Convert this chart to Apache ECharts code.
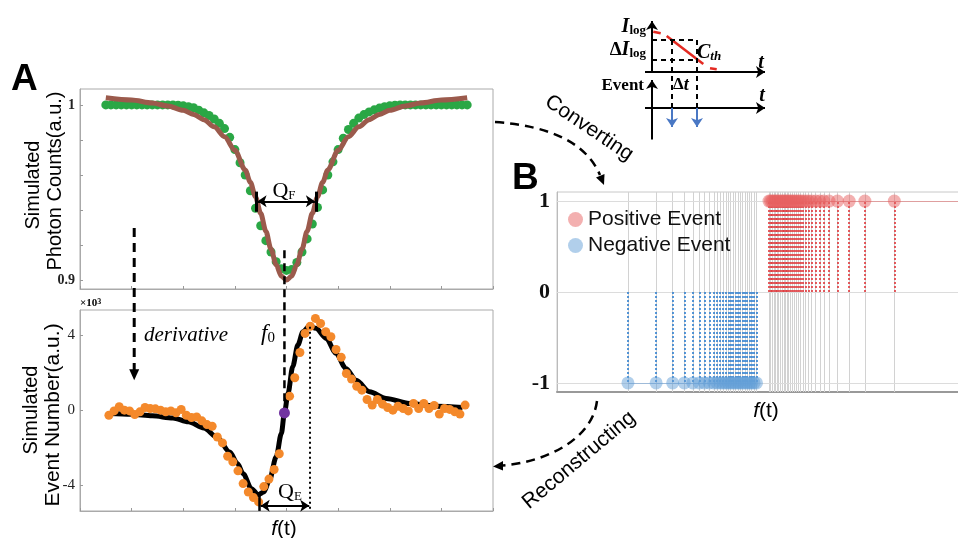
<!DOCTYPE html>
<html>
<head>
<meta charset="utf-8">
<style>
  html, body { margin: 0; padding: 0; background: #fff; }
  #main { width: 958px; height: 538px; }
</style>
<script src="https://cdn.jsdelivr.net/npm/echarts@6/dist/echarts.min.js"></script>
</head>
<body>
<div id="main"></div>
<script>
// A (top): simulated photon counts, dots + Lorentzian fit
const photonF = [-3.5,-3.4,-3.3,-3.2,-3.1,-3.0,-2.9,-2.8,-2.7,-2.6,-2.5,-2.4,-2.3,-2.2,-2.1,-2.0,-1.9,-1.8,-1.7,-1.6,-1.5,-1.4,-1.3,-1.2,-1.1,-1.0,-0.9,-0.8,-0.7,-0.6,-0.5,-0.4,-0.3,-0.2,-0.1,0,0.1,0.2,0.3,0.4,0.5,0.6,0.7,0.8,0.9,1.0,1.1,1.2,1.3,1.4,1.5,1.6,1.7,1.8,1.9,2.0,2.1,2.2,2.3,2.4,2.5,2.6,2.7,2.8,2.9,3.0,3.1,3.2,3.3,3.4,3.5];
const photonCounts = [1,1,1,1,1,1,1,1,1,1,1,1,1,1,
  0.9998,0.9995,0.9990,0.9984,0.9970,0.9955,0.9940,0.9920,0.9895,0.9865,0.9815,0.9745,0.9670,0.9600,0.9510,0.9410,0.9310,0.9225,0.9160,0.9105,0.9065,
  0.9055,
  0.9060,0.9100,0.9160,0.9235,0.9320,0.9415,0.9515,0.9600,0.9675,0.9745,0.9810,0.9860,0.9895,0.9925,0.9945,0.9960,0.9972,0.9982,0.9990,0.9995,0.9998,
  1,1,1,1,1,1,1,1,1,1,1,1,1,1];
const photonFitF = [-3.5,-3,-2.6,-2.3,-2,-1.8,-1.6,-1.4,-1.2,-1,-0.8,-0.7,-0.6,-0.5,-0.4,-0.3,-0.2,-0.1,0,0.1,0.2,0.3,0.4,0.5,0.6,0.7,0.8,1,1.2,1.4,1.6,1.8,2,2.3,2.6,3,3.5];
const photonFit = [1.0041,1.0028,1.0011,0.9994,0.9969,0.9946,0.9916,0.9875,0.9819,0.9741,0.9629,0.9558,0.9475,0.9381,0.9279,0.9177,0.9087,0.9023,0.9000,0.9023,0.9087,0.9177,0.9279,0.9381,0.9475,0.9558,0.9629,0.9741,0.9819,0.9875,0.9916,0.9946,0.9969,0.9994,1.0011,1.0028,1.0041];

// A (bottom): simulated event number (x10^3), dots + fit
const eventF = [-3.44,-3.34,-3.24,-3.14,-3.04,-2.94,-2.84,-2.74,-2.64,-2.54,-2.44,-2.34,-2.24,-2.14,-2.04,-1.94,-1.84,-1.74,-1.64,-1.54,-1.44,-1.34,-1.24,-1.14,-1.04,-0.94,-0.84,-0.74,-0.64,-0.54,-0.44,-0.34,-0.24,-0.14,-0.04,0.06,0.16,0.26,0.36,0.46,0.56,0.66,0.76,0.86,0.96,1.06,1.16,1.26,1.36,1.46,1.56,1.66,1.76,1.86,1.96,2.06,2.16,2.26,2.36,2.46,2.56,2.66,2.76,2.86,2.96,3.06,3.16,3.26,3.36,3.46];
const eventCounts = [-0.27,-0.04,0.18,0.0,-0.04,-0.23,-0.09,0.14,0.09,0.07,
  0.0,-0.09,-0.04,-0.14,0.04,-0.27,-0.39,-0.36,-0.57,-0.77,
  -0.86,-1.43,-1.75,-2.46,-2.76,-3.24,-3.92,-4.37,-4.67,-4.90,
  -4.08,-3.68,-3.17,-2.33,-0.18,0.75,1.73,3.08,4.10,4.48,
  4.90,4.63,4.19,3.92,3.24,2.82,1.96,1.66,1.28,1.07,
  0.57,0.27,0.57,0.32,0.14,0.0,0.21,0.09,-0.04,0.36,
  0.09,0.36,0.09,0.25,-0.21,0.09,0.04,-0.09,-0.21,0.27];
const eventFitF = [-3.44,-3.0,-2.6,-2.2,-1.9,-1.6,-1.35,-1.1,-0.95,-0.84,-0.68,-0.55,-0.44,-0.33,-0.2,-0.1,-0.04,0.03,0.12,0.22,0.32,0.44,0.57,0.77,0.96,1.15,1.35,1.61,1.93,2.38,2.9,3.41];
const eventFit = [-0.18,-0.22,-0.30,-0.42,-0.62,-0.95,-1.43,-2.23,-2.85,-3.39,-4.19,-4.51,-4.37,-3.74,-2.50,-1.25,-0.15,0.9,2.32,3.48,4.19,4.49,4.37,3.83,3.03,2.23,1.60,0.98,0.62,0.36,0.21,0.14];
const f0Point = [-0.04, -0.15];

// B: event stream positions along f(t)
const negEvents = [17.6,24.6,28.7,31.6,33.7,35.3,36.6,37.8,38.9,39.7,40.5,41.2,41.9,42.5,43.1,43.7,44.3,44.9,45.4,46.0,46.6,47.2,47.8,48.3,48.9,49.5];
const posEvents = [52.6,53.0,53.4,53.8,54.2,54.6,55.0,55.5,55.9,56.3,56.7,57.1,57.5,58.0,58.4,58.9,59.4,59.9,60.4,61.0,61.7,62.4,63.2,64.2,65.2,66.2,67.5,69.6,72.5,76.4,83.7];
const bTicks = [-1, 0, 1];

// inset schematic (I_log vs t, event vs t)
const cthSolid = [[1.47, 10.4], [5.13, 7.6]];
const cthDashes = [[[0.13, 10.83], [0.87, 10.67]], [[5.8, 7.17], [6.47, 7.07]]];
const levelY = [10.0, 8.0];
const eventT = [2.0, 4.5];

const serif = '"Liberation Serif", "Times New Roman", serif';
const sans = '"Liberation Sans", Arial, sans-serif';

const chart = echarts.init(document.getElementById('main'));

const hidden = { show: false };
const lineOnly = (from, to, style, sym) => [
  { coord: from, symbol: sym ? sym[0] : 'none', symbolSize: 9 },
  { coord: to, symbol: sym ? sym[1] : 'none', symbolSize: 9, lineStyle: style }
];

const qfLines = [
  lineOnly([-0.56, 0.945], [0.55, 0.945], { color: '#000', width: 2, type: 'solid' }, ['arrow', 'arrow']),
  lineOnly([-0.585, 0.9505], [-0.585, 0.939], { color: '#000', width: 3, type: 'solid' }),
  lineOnly([0.57, 0.9505], [0.57, 0.939], { color: '#000', width: 3, type: 'solid' })
];
const qeLines = [
  lineOnly([-0.52, -4.5], [-0.52, -5.38], { color: '#000', width: 2.5, type: 'solid' }),
  lineOnly([0.46, 4.45], [0.46, -5.38], { color: '#000', width: 2, type: [2, 3] }),
  lineOnly([-0.5, -5.1], [0.44, -5.1], { color: '#000', width: 2, type: 'solid' }, ['arrow', 'arrow'])
];

const greyLines = negEvents.concat(posEvents).map(x => ({ xAxis: x, lineStyle: { color: '#d2d2d2', width: 1, type: 'solid' } }))
  .concat(bTicks.map(y => ({ yAxis: y, lineStyle: { color: '#dcdcdc', width: 1, type: 'solid' } })));
const stems = negEvents.map(x => lineOnly([x, 0], [x, -1], { color: '#2f7fd0', width: 1.6, type: [2, 2] }))
  .concat(posEvents.map(x => lineOnly([x, 0], [x, 1], { color: '#e0363a', width: 1.6, type: [2, 2] })))
  .concat([
    lineOnly([posEvents[0], 1], [100, 1], { color: 'rgba(226,110,110,0.55)', width: 1, type: 'solid' }),
    lineOnly([negEvents[0], -1], [negEvents[negEvents.length - 1], -1], { color: 'rgba(110,160,215,0.55)', width: 1, type: 'solid' })
  ]);

const black = { color: '#000', width: 2, type: 'solid' };
const dashB = { color: '#000', width: 2, type: [5, 4] };
const insetLines = [
  lineOnly([0, 6.8], [0, 11.9], black, ['none', 'arrow']),
  lineOnly([0, 0.05], [0, 6.0], black, ['none', 'arrow']),
  lineOnly([-0.7, 6.8], [11.3, 6.8], black, ['none', 'arrow']),
  lineOnly([-0.7, 3.2], [11.3, 3.2], black, ['none', 'arrow'])
].concat(cthDashes.map(d => lineOnly(d[0], d[1], { color: '#e42a22', width: 2.5, type: 'solid' })))
 .concat(levelY.map(y => lineOnly([0, y], [eventT[1], y], dashB)))
 .concat(eventT.map(t => lineOnly([t, levelY[0]], [t, 3.2], dashB)))
 .concat(eventT.map(t => lineOnly([t, 3.2], [t, 1.3], { color: '#4a78c4', width: 2, type: 'solid' }, ['none', 'arrow'])));

const markCommon = { silent: true, animation: false, symbol: ['none', 'none'], label: { show: false }, emphasis: { disabled: true } };

const axA = (g) => ({
  gridIndex: g, type: 'value', min: -4, max: 4, interval: 1,
  axisLine: { onZero: false, lineStyle: { color: '#aaa', width: 1 } },
  axisTick: { inside: true, length: 3, lineStyle: { color: '#999' } },
  axisLabel: { show: false }, splitLine: { show: false }
});

const option = {
  animation: false,
  backgroundColor: '#fff',
  legend: {
    data: ['Positive Event', 'Negative Event'],
    orient: 'vertical', left: 563, top: 204, itemGap: 5,
    icon: 'circle', itemWidth: 15, itemHeight: 15,
    textStyle: { fontFamily: sans, fontSize: 21, color: '#111' },
    selectedMode: false
  },
  grid: [
    { left: 80, top: 89, width: 413, height: 200, show: true, borderColor: '#aaa', borderWidth: 1, containLabel: false, outerBoundsMode: 'none' },
    { left: 80, top: 310, width: 413, height: 201, show: true, borderColor: '#aaa', borderWidth: 1, containLabel: false, outerBoundsMode: 'none' },
    { left: 557, top: 192, width: 403, height: 200, show: true, borderColor: '#c8c8c8', borderWidth: 1, containLabel: false, outerBoundsMode: 'none' },
    { left: 642, top: 15, width: 130, height: 125, show: false, containLabel: false, outerBoundsMode: 'none' }
  ],
  xAxis: [
    axA(0), axA(1),
    { gridIndex: 2, type: 'value', min: 0, max: 100,
      axisLine: { onZero: false, lineStyle: { color: '#999', width: 2 } },
      axisTick: hidden, axisLabel: hidden, splitLine: hidden },
    { gridIndex: 3, type: 'value', min: -1, max: 12, show: false }
  ],
  yAxis: [
    { gridIndex: 0, type: 'value', min: 0.8949, max: 1.0091,
      axisLine: { show: true, onZero: false, lineStyle: { color: '#aaa', width: 1 } },
      axisTick: { show: true, inside: true, length: 3, customValues: [0.9, 0.92, 0.94, 0.96, 0.98, 1], lineStyle: { color: '#999' } },
      axisLabel: { customValues: [0.9, 1], fontFamily: serif, fontWeight: 'bold', fontSize: 14, color: '#222', margin: 5 },
      splitLine: hidden },
    { gridIndex: 1, type: 'value', min: -5.385, max: 5.35,
      axisLine: { show: true, onZero: false, lineStyle: { color: '#aaa', width: 1 } },
      axisTick: { show: true, inside: true, length: 3, customValues: [-4, 0, 4], lineStyle: { color: '#999' } },
      axisLabel: { customValues: [-4, 0, 4], fontFamily: serif, fontSize: 15, color: '#222', margin: 5 },
      splitLine: hidden },
    { gridIndex: 2, type: 'value', min: -1.1, max: 1.1,
      axisLine: { show: true, onZero: false, lineStyle: { color: '#bbb', width: 1 } },
      axisTick: hidden,
      axisLabel: { customValues: bTicks, fontFamily: serif, fontWeight: 'bold', fontSize: 22, color: '#111', margin: 7 },
      splitLine: hidden },
    { gridIndex: 3, type: 'value', min: 0, max: 12.5, show: false }
  ],
  series: [
    { type: 'scatter', xAxisIndex: 0, yAxisIndex: 0, z: 2,
      data: photonF.map((f, i) => [f, photonCounts[i]]),
      symbolSize: 9, itemStyle: { color: '#2aa745', opacity: 1 } },
    { type: 'line', xAxisIndex: 0, yAxisIndex: 0, z: 3,
      data: photonFitF.map((f, i) => [f, photonFit[i]]),
      smooth: 0.3, smoothMonotone: 'x', showSymbol: false,
      lineStyle: { color: '#9b5a4c', width: 5 },
      markLine: Object.assign({ data: qfLines }, markCommon) },
    { type: 'line', xAxisIndex: 1, yAxisIndex: 1, z: 3,
      data: eventFitF.map((f, i) => [f, eventFit[i]]),
      smooth: 0.3, smoothMonotone: 'x', showSymbol: false,
      lineStyle: { color: '#000', width: 5 },
      markLine: Object.assign({ data: qeLines }, markCommon) },
    { type: 'scatter', xAxisIndex: 1, yAxisIndex: 1, z: 4,
      data: eventF.map((f, i) => [f, eventCounts[i]]),
      symbolSize: 9, itemStyle: { color: '#f4892b', opacity: 1 } },
    { type: 'scatter', xAxisIndex: 1, yAxisIndex: 1, z: 5,
      data: [f0Point], symbolSize: 11, itemStyle: { color: '#7233a1', opacity: 1 } },
    { type: 'scatter', name: 'Positive Event', xAxisIndex: 2, yAxisIndex: 2, z: 4,
      data: posEvents.map(x => [x, 1]), symbolSize: 13,
      itemStyle: { color: 'rgba(232,98,98,0.5)', opacity: 1 },
      markLine: Object.assign({ data: stems, z: 3 }, markCommon) },
    { type: 'scatter', name: 'Negative Event', xAxisIndex: 2, yAxisIndex: 2, z: 4,
      data: negEvents.map(x => [x, -1]), symbolSize: 13,
      itemStyle: { color: 'rgba(100,160,215,0.5)', opacity: 1 },
      markLine: Object.assign({ data: greyLines, z: 1 }, markCommon) },
    { type: 'line', xAxisIndex: 3, yAxisIndex: 3, z: 3,
      data: cthSolid, showSymbol: false,
      lineStyle: { color: '#e42a22', width: 2.5 },
      markLine: Object.assign({ data: insetLines }, markCommon) }
  ]
};

chart.setOption(option);

// annotations that cross the two A panels, placed through the axes
const px = (g, pt) => chart.convertToPixel({ gridIndex: g }, pt);
const dTop = px(0, [-2.95, 0.9297]);
const dTip = px(1, [-2.95, 1.6]);
const fTop = px(0, [-0.04, 0.917]);
const fBot = px(1, [-0.04, 0.45]);

const txt = (x, y, text, font, extra) => ({
  type: 'text', x: x, y: y, z: 100,
  style: Object.assign({ text: text, font: font, fill: '#000', align: 'center', verticalAlign: 'middle' }, extra || {})
});
const rot = (el, deg) => Object.assign(el, { rotation: deg * Math.PI / 180 });

const graphic = [
  txt(11, 80, 'A', 'bold 37px ' + sans, { align: 'left' }),
  txt(512, 179, 'B', 'bold 37px ' + sans, { align: 'left' }),
  rot(txt(33, 185, 'Simulated', '20px ' + sans), 90),
  rot(txt(55, 181, 'Photon Counts(a.u.)', '20px ' + sans), 90),
  rot(txt(31, 410, 'Simulated', '20px ' + sans), 90),
  rot(txt(53, 415, 'Event Number(a.u.)', '21px ' + sans), 90),
  txt(80, 303, '{a|×10}{b|3}', '', { align: 'left', rich: {
    a: { font: 'bold 11px ' + serif, verticalAlign: 'bottom' },
    b: { font: 'bold 8px ' + serif, verticalAlign: 'top' } } }),
  txt(261, 334, '{f|f}{s|0}', '', { align: 'left', rich: {
    f: { font: 'italic 23px ' + serif, verticalAlign: 'bottom' },
    s: { font: '15px ' + serif, verticalAlign: 'bottom' } } }),
  txt(144, 335, 'derivative', 'italic 21px ' + serif, { align: 'left' }),
  txt(284, 191, '{q|Q}{s|F}', '', { rich: {
    q: { font: '22px ' + serif, verticalAlign: 'bottom' },
    s: { font: '13px ' + serif, verticalAlign: 'bottom' } } }),
  txt(290, 492, '{q|Q}{s|E}', '', { rich: {
    q: { font: '22px ' + serif, verticalAlign: 'bottom' },
    s: { font: '13px ' + serif, verticalAlign: 'bottom' } } }),
  txt(284, 529, '{f|f}{t|(t)}', '', { rich: {
    f: { font: 'italic 21px ' + sans }, t: { font: '21px ' + sans } } }),
  txt(766, 411, '{f|f}{t|(t)}', '', { rich: {
    f: { font: 'italic 21px ' + sans }, t: { font: '21px ' + sans } } }),
  rot(txt(589, 128, 'Converting', '21px ' + sans), -34),
  rot(txt(579, 460, 'Reconstructing', '21px ' + sans), 40),
  // inset labels
  txt(646, 27, '{i|I}{s|log}', '', { align: 'right', rich: {
    i: { font: 'italic bold 20px ' + serif, verticalAlign: 'bottom' },
    s: { font: 'bold 13px ' + serif, verticalAlign: 'bottom' } } }),
  txt(646, 50, '{d|Δ}{i|I}{s|log}', '', { align: 'right', rich: {
    d: { font: 'bold 19px ' + serif, verticalAlign: 'bottom' },
    i: { font: 'italic bold 20px ' + serif, verticalAlign: 'bottom' },
    s: { font: 'bold 13px ' + serif, verticalAlign: 'bottom' } } }),
  txt(697, 53, '{c|C}{s|th}', '', { align: 'left', rich: {
    c: { font: 'italic bold 20px ' + serif, verticalAlign: 'bottom' },
    s: { font: 'italic bold 13px ' + serif, verticalAlign: 'bottom' } } }),
  txt(761, 63, 't', 'italic bold 20px ' + serif),
  txt(762, 96, 't', 'italic bold 20px ' + serif),
  txt(673, 85, '{d|Δ}{t|t}', '', { align: 'left', rich: {
    d: { font: 'bold 17px ' + serif }, t: { font: 'italic bold 18px ' + serif } } }),
  txt(644, 86, 'Event', 'bold 17px ' + serif, { align: 'right' }),
  // dashed curved arrows between panels
  { type: 'bezierCurve', z: 100,
    shape: { x1: 495, y1: 122, cpx1: 580, cpy1: 128, x2: 600, y2: 175 },
    style: { stroke: '#000', lineWidth: 2.5, lineDash: [9, 6], fill: null } },
  { type: 'polygon', z: 100,
    shape: { points: [[596, 177.5], [604.5, 174], [604, 185]] }, style: { fill: '#000' } },
  { type: 'bezierCurve', z: 100,
    shape: { x1: 597, y1: 401, cpx1: 592, cpy1: 440, cpx2: 545, cpy2: 462, x2: 503, y2: 465.5 },
    style: { stroke: '#000', lineWidth: 2.5, lineDash: [9, 6], fill: null } },
  { type: 'polygon', z: 100,
    shape: { points: [[503, 461], [503, 470.5], [493, 466.5]] }, style: { fill: '#000' } },
  // derivative arrow and f0 line
  { type: 'line', z: 100,
    shape: { x1: dTop[0], y1: dTop[1], x2: dTip[0], y2: dTip[1] - 10 },
    style: { stroke: '#000', lineWidth: 3, lineDash: [9, 6] } },
  { type: 'polygon', z: 100,
    shape: { points: [[dTip[0] - 5, dTip[1] - 11], [dTip[0] + 5, dTip[1] - 11], [dTip[0], dTip[1]]] },
    style: { fill: '#000' } },
  { type: 'line', z: 100,
    shape: { x1: fTop[0], y1: fTop[1], x2: fBot[0], y2: fBot[1] },
    style: { stroke: '#000', lineWidth: 2.5, lineDash: [8, 5] } }
];

chart.setOption({ graphic: graphic });
</script>
</body>
</html>
